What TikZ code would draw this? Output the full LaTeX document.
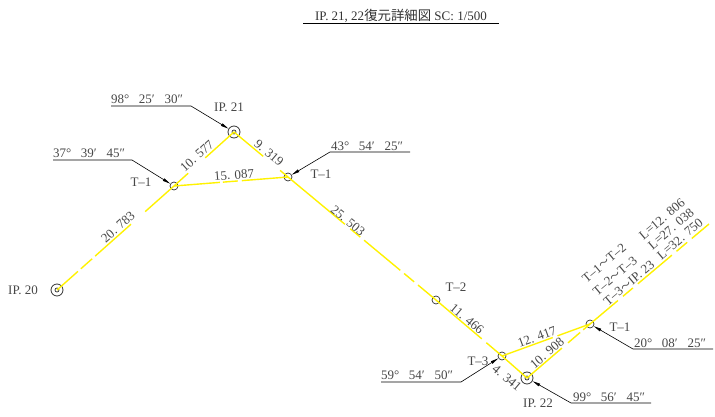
\documentclass[tikz,border=0pt]{standalone}
\usepackage{fontspec}
\setmainfont{Liberation Serif}
\newfontfamily\cjk{Noto Sans CJK JP}
\usetikzlibrary{arrows.meta}
\tikzset{>={Stealth[inset=0pt,angle=20:8pt]}}
\newcommand{\wave}{{\cjk\fontsize{11}{12}\selectfont ～}}
\tikzset{
    road/.style={draw=yellow,line width=1.4pt},
    leader/.style={draw=black,line width=0.6pt,->},
    tmark/.style={circle,draw=black!80,line width=0.7pt,inner sep=0pt,minimum size=8pt},
    ipmark/.style={circle,draw=black!80,line width=0.8pt,inner sep=0pt,minimum size=12pt},
    ipdot/.style={circle,draw=black!80,line width=0.7pt,inner sep=0pt,minimum size=4pt},
    lbl/.style={text=black!72,font=\fontsize{13}{14}\selectfont,inner sep=0pt},
}
\begin{document}
\begin{tikzpicture}[x=1pt,y=-1pt]
    \useasboundingbox (0,0) rectangle (715,417);
    % title
    \node[lbl,text=black!80] (title) at (401,16) {IP. 21, 22{\cjk\fontsize{13.4}{14}\selectfont 復元詳細図}\ SC: 1/500};
    \coordinate (titleL) at (303,23.5);
    \coordinate (titleR) at (499,23.5);
    \draw[line width=1pt] (titleL)--(titleR);
    % stations
    \node[ipmark] (ip20) at (57,290) {};
    \node[ipmark] (ip21) at (234,132) {};
    \node[ipmark] (ip22) at (527,378) {};
    \foreach \p in {ip20,ip21,ip22} \node[ipdot] at (\p) {};
    \node[tmark] (ta) at (174,186) {};
    \node[tmark] (tb) at (288,177) {};
    \node[tmark] (tc) at (436,300) {};
    \node[tmark] (td) at (502,356) {};
    \node[tmark] (te) at (590,324) {};
    \coordinate (roadend) at (709,224);
    % alignment
    \draw[road,dash pattern=on 28pt off 4pt on 15pt off 4pt on 48pt off 19pt on 40pt] (ip20.center)--(ta.center);
    \draw[road,dash pattern=on 19pt off 23pt on 40pt] (ta.center)--(ip21.center);
    \draw[road,dash pattern=on 38pt off 22pt on 20pt] (ip21.center)--(tb.center);
    \draw[road,dash pattern=on 46pt off 3pt on 15pt off 4pt on 60pt] (ta.center)--(tb.center);
    \draw[road,dash pattern=on 74pt off 7pt on 13pt off 5pt on 47pt off 5pt on 13pt off 5pt on 30pt] (tb.center)--(tc.center);
    \draw[road,dash pattern=on 60pt off 6pt on 30pt] (tc.center)--(td.center);
    \draw[road] (td.center)--(ip22.center);
    \draw[road,dash pattern=on 54pt off 5pt on 40pt] (td.center)--(te.center);
    \draw[road,dash pattern=on 46pt off 8pt on 16pt off 4pt on 20pt] (ip22.center)--(te.center);
    \draw[road,dash pattern=on 36.5pt off 6.5pt on 13pt off 6.5pt on 44.5pt off 6pt on 14pt off 6pt on 40pt] (te.center)--(roadend);
    % leaders
    \coordinate (la0) at (111,106); \coordinate (la1) at (191,106);
    \draw[leader] (la0)--(la1)--(ip21);
    \coordinate (lb0) at (53,160); \coordinate (lb1) at (132,160);
    \draw[leader] (lb0)--(lb1)--(ta);
    \coordinate (lc0) at (410,152); \coordinate (lc1) at (330,152);
    \draw[leader] (lc0)--(lc1)--(tb);
    \coordinate (ld0) at (713,349); \coordinate (ld1) at (633,349);
    \draw[leader] (ld0)--(ld1)--(te);
    \coordinate (le0) at (651,403); \coordinate (le1) at (571,403);
    \draw[leader] (le0)--(le1)--(ip22);
    \coordinate (lf0) at (381,382); \coordinate (lf1) at (461,382);
    \draw[leader] (lf0)--(lf1)--(td);
    % station names
    \foreach \x/\y/\t in {229/107/IP. 21,23/290.5/IP. 20,538/403/IP. 22,141/182/T--1,321/174/T--1,456/287/T--2,620/327/T--1,478/361/T--3}
        \node[lbl] at (\x,\y) {\t};
    % angles
    \foreach \x/\y/\t in {147/99/98°\ \ \ 25′\ \ \ 30″,89/153/37°\ \ \ 39′\ \ \ 45″,367/146/43°\ \ \ 54′\ \ \ 25″,670/343/20°\ \ \ 08′\ \ \ 25″,609/397/99°\ \ \ 56′\ \ \ 45″,417/375/59°\ \ \ 54′\ \ \ 50″}
        \node[lbl] at (\x,\y) {\t};
    % distances
    \foreach \x/\y/\r/\t in {118/227/41.6/20. 783,197/156/42/10. 577,269/153/-40/9. 319,234/175/4.5/15. 087,348/221/-39.7/25. 503,467/319/-40/11. 466,537/337/20/12. 417,547/353/40.6/10. 908,507/378/-40/4. 341,604/263/40/T--1\wave T--2,615/276/40/T--2\wave T--3,629/283/40/T--3\wave IP. 23,662/219/40/L=12. 806,671/229/40/L=27. 038,680/239/40/L=32. 750}
        \node[lbl,rotate=\r] at (\x,\y) {\t};
\end{tikzpicture}
\end{document}
